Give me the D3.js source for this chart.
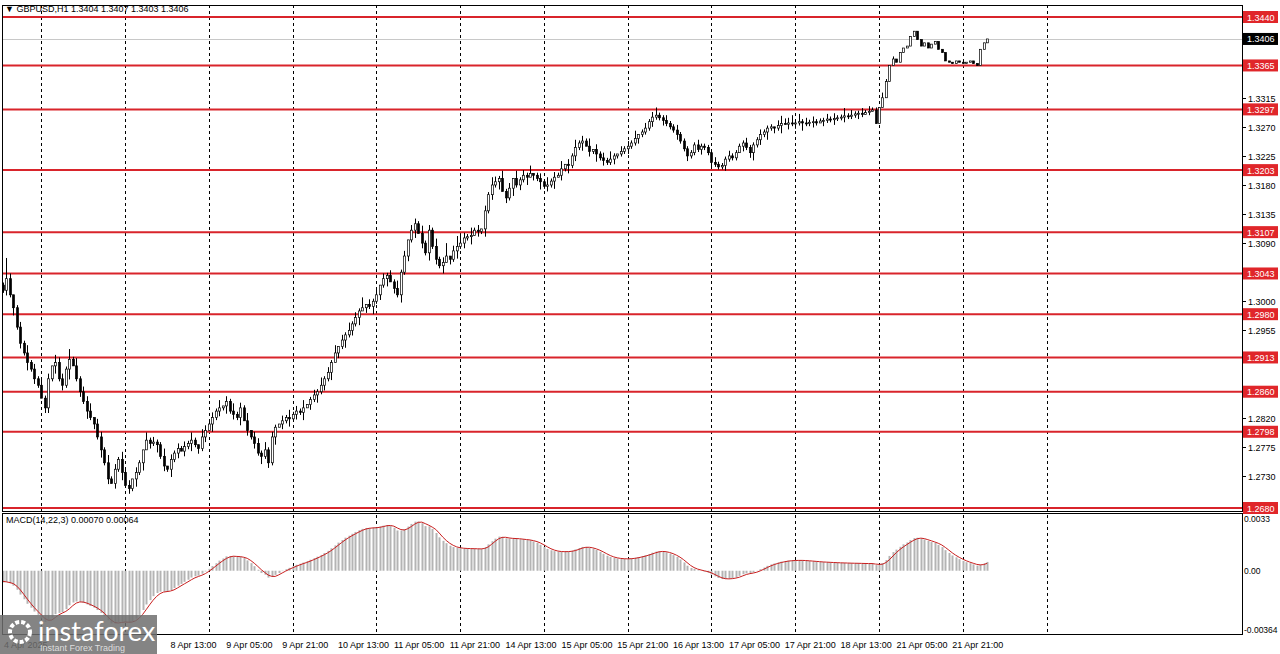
<!DOCTYPE html>
<html>
<head>
<meta charset="utf-8">
<script src="https://cdn.jsdelivr.net/npm/d3@7"></script>
<style>
  body { margin: 0; background: #fff; }
  text { font-family: "Liberation Sans", Tahoma, sans-serif; font-size: 9px; }
</style>
</head>
<body>
<div id="chart"></div>
<script>
const W = 1280, H = 654;

// hourly closes (GBPUSD H1)
const history = [1.3085, 1.3090, 1.3080, 1.3082, 1.3075, 1.3078, 1.3070, 1.3072, 1.3068, 1.3065,
  1.3070, 1.3066, 1.3062, 1.3064, 1.3060, 1.3062, 1.3058, 1.3060, 1.3055, 1.3058,
  1.3054, 1.3056, 1.3052, 1.3050, 1.3048, 1.3045, 1.3040, 1.3035, 1.3030, 1.3025];
const closes = [
  1.3017,1.3035,1.3010,1.2990,1.2960,1.2935,1.2920,1.2905,1.2895,1.2880,
  1.2870,1.2850,1.2835,1.2880,1.2900,1.2905,1.2880,1.2870,1.2895,1.2910,
  1.2900,1.2880,1.2860,1.2845,1.2830,1.2820,1.2810,1.2790,1.2770,1.2750,
  1.2725,1.2718,1.2740,1.2755,1.2735,1.2715,1.2710,1.2725,1.2735,1.2750,
  1.2770,1.2785,1.2780,1.2782,1.2778,1.2760,1.2745,1.2740,1.2755,1.2765,
  1.2772,1.2768,1.2775,1.2780,1.2785,1.2778,1.2772,1.2790,1.2800,1.2810,
  1.2820,1.2830,1.2835,1.2838,1.2845,1.2830,1.2825,1.2820,1.2835,1.2815,
  1.2800,1.2790,1.2780,1.2765,1.2760,1.2770,1.2750,1.2790,1.2805,1.2810,
  1.2815,1.2820,1.2818,1.2825,1.2830,1.2828,1.2835,1.2840,1.2848,1.2855,
  1.2860,1.2870,1.2880,1.2890,1.2905,1.2920,1.2930,1.2940,1.2948,1.2955,
  1.2965,1.2975,1.2985,1.2990,1.2995,1.2992,1.3000,1.3010,1.3025,1.3035,
  1.3040,1.3030,1.3020,1.3010,1.3045,1.3070,1.3095,1.3110,1.3120,1.3105,
  1.3090,1.3075,1.3110,1.3085,1.3065,1.3055,1.3060,1.3070,1.3065,1.3078,
  1.3085,1.3090,1.3098,1.3100,1.3102,1.3110,1.3108,1.3112,1.3140,1.3165,
  1.3180,1.3185,1.3190,1.3170,1.3160,1.3175,1.3190,1.3180,1.3188,1.3195,
  1.3192,1.3198,1.3195,1.3190,1.3185,1.3178,1.3180,1.3186,1.3192,1.3195,
  1.3205,1.3212,1.3210,1.3225,1.3238,1.3245,1.3248,1.3240,1.3232,1.3235,
  1.3228,1.3222,1.3218,1.3215,1.3220,1.3225,1.3228,1.3232,1.3236,1.3240,
  1.3245,1.3252,1.3258,1.3262,1.3268,1.3278,1.3285,1.3288,1.3284,1.3280,
  1.3275,1.3270,1.3265,1.3258,1.3248,1.3236,1.3225,1.3230,1.3242,1.3235,
  1.3240,1.3238,1.3230,1.3215,1.3212,1.3208,1.3210,1.3220,1.3225,1.3222,
  1.3230,1.3240,1.3245,1.3238,1.3230,1.3242,1.3250,1.3258,1.3262,1.3268,
  1.3270,1.3268,1.3272,1.3275,1.3274,1.3276,1.3275,1.3276,1.3278,1.3276,
  1.3275,1.3277,1.3278,1.3276,1.3279,1.3280,1.3282,1.3281,1.3283,1.3284,
  1.3285,1.3287,1.3286,1.3288,1.3290,1.3291,1.3289,1.3292,1.3294,1.3296,
  1.3275,1.3300,1.3315,1.3340,1.3365,1.3375,1.3370,1.3385,1.3392,1.3395,
  1.3410,1.3418,1.3405,1.3395,1.3400,1.3392,1.3398,1.3402,1.3390,1.3385,
  1.3372,1.3370,1.3368,1.3372,1.3370,1.3368,1.3370,1.3372,1.3368,1.3365,
  1.3390,1.3400,1.3406];
// wick extensions above / below the body, in units of 4 pips, one digit per bar
const wickUp = "1820121312131203221413122302213121312021031211302121213103212130213121302213121021312130121312130213121402130212131202213121312502432131202132131203121301213121302131213021213102121301212311211211111211112111211112111211102322313121211121211312112121102101";
const wickDn = "1213121312102213121401213121312021312131302131213120213121203121312130212131213021312130213121302131213021312130213121302131213021312130213121302131213021312130213121302131211211121121112112111211211121121112111021231213121302121311210211211211121010";
const levels = [1.3440, 1.3365, 1.3297, 1.3203, 1.3107, 1.3043, 1.2980, 1.2913, 1.2860, 1.2798, 1.2680];
const priceTicks = [1.3450, 1.3405, 1.3360, 1.3315, 1.3270, 1.3225, 1.3180, 1.3135, 1.3090, 1.3045,
  1.3000, 1.2955, 1.2910, 1.2865, 1.2820, 1.2775, 1.2730, 1.2685];
const timeIdx = [48, 64, 80, 96, 112, 128, 144, 160, 176, 192, 208, 224, 240, 256, 272];
const timeLabels = ["8 Apr 13:00", "9 Apr 05:00", "9 Apr 21:00", "10 Apr 13:00",
  "11 Apr 05:00", "11 Apr 21:00", "14 Apr 13:00", "15 Apr 05:00", "15 Apr 21:00", "16 Apr 13:00",
  "17 Apr 05:00", "17 Apr 21:00", "18 Apr 13:00", "21 Apr 05:00", "21 Apr 21:00"];
const dayIdx = [11, 35, 59, 83, 107, 131, 155, 179, 203, 227, 251, 275, 299];

const bars = closes.map((c, i) => {
  const o = i === 0 ? history[history.length - 1] : closes[i - 1];
  return { i, o, c,
    h: Math.max(o, c) + (+wickUp[i] || 0) * 0.0004,
    l: Math.min(o, c) - (+wickDn[i] || 0) * 0.0004 };
});

// MACD(14,22,3): main = EMA14 - EMA22, signal = SMA3 of main
function ema(arr, n) {
  const k = 2 / (n + 1); let e = arr[0];
  return arr.map(v => (e = e + k * (v - e)));
}
const all = history.concat(closes);
const e14 = ema(all, 14), e22 = ema(all, 22);
const mainAll = all.map((v, i) => e14[i] - e22[i]);
const sigAll = mainAll.map((v, i) => i < 2 ? v : (mainAll[i] + mainAll[i - 1] + mainAll[i - 2]) / 3);
const macd = mainAll.slice(history.length), signal = sigAll.slice(history.length);

const plotL = 2, plotR = 1242, mainT = 5, mainB = 511, macdT = 513, macdB = 634;

const x = d3.scaleLinear().domain([0, 1]).range([3, 6.49]);
const y = d3.scaleLinear().domain([1.2680, 1.3440]).range([508, 17]);
const ym = d3.scaleLinear().domain([-0.00364, 0.0033]).range([630, 517]);

const svg = d3.select("#chart").append("svg").attr("width", W).attr("height", H);

svg.append("defs").append("clipPath").attr("id", "cm")
  .append("rect").attr("x", plotL).attr("y", mainT).attr("width", plotR - plotL).attr("height", mainB - mainT);
svg.append("defs").append("clipPath").attr("id", "cd")
  .append("rect").attr("x", plotL).attr("y", macdT).attr("width", plotR - plotL).attr("height", macdB - macdT);

// day separators
svg.append("g").selectAll("line").data(dayIdx).join("line")
  .attr("x1", d => Math.round(x(d)) + 0.5).attr("x2", d => Math.round(x(d)) + 0.5)
  .attr("y1", mainT).attr("y2", macdB)
  .attr("stroke", "#000").attr("stroke-dasharray", "3,3");

const gMain = svg.append("g").attr("clip-path", "url(#cm)");

// current price line
gMain.append("line").attr("x1", plotL).attr("x2", plotR)
  .attr("y1", Math.round(y(1.3406)) + 0.5).attr("y2", Math.round(y(1.3406)) + 0.5)
  .attr("stroke", "#c8c8c8");

// levels
gMain.append("g").selectAll("line").data(levels).join("line")
  .attr("x1", plotL).attr("x2", plotR).attr("y1", d => y(d)).attr("y2", d => y(d))
  .attr("stroke", "#d9242b").attr("stroke-width", 2);

// candles
const cg = gMain.append("g").selectAll("g").data(bars).join("g");
cg.append("line").attr("x1", d => Math.round(x(d.i)) + 0.5).attr("x2", d => Math.round(x(d.i)) + 0.5)
  .attr("y1", d => y(d.h)).attr("y2", d => y(d.l)).attr("stroke", "#000");
cg.append("rect")
  .attr("x", d => Math.round(x(d.i)) - 0.5).attr("width", 2)
  .attr("y", d => y(Math.max(d.o, d.c)))
  .attr("height", d => Math.max(1, Math.abs(y(d.o) - y(d.c))))
  .attr("fill", d => d.c >= d.o ? "#fff" : "#000").attr("stroke", "#000").attr("stroke-width", 0.7);

// MACD pane
const gM = svg.append("g").attr("clip-path", "url(#cd)");
gM.append("g").selectAll("line").data(macd).join("line")
  .attr("x1", (d, i) => Math.round(x(i)) + 0.5).attr("x2", (d, i) => Math.round(x(i)) + 0.5)
  .attr("y1", ym(0)).attr("y2", d => ym(d))
  .attr("stroke", "#b4b4b4").attr("stroke-width", 2);
gM.append("path").datum(signal)
  .attr("d", d3.line().x((d, i) => x(i)).y(d => ym(d)))
  .attr("fill", "none").attr("stroke", "#c81e1e").attr("stroke-width", 1);

// frames
svg.append("rect").attr("x", plotL + 0.5).attr("y", mainT + 0.5).attr("width", plotR - plotL).attr("height", mainB - mainT)
  .attr("fill", "none").attr("stroke", "#000");
svg.append("rect").attr("x", plotL + 0.5).attr("y", macdT + 0.5).attr("width", plotR - plotL).attr("height", macdB - macdT)
  .attr("fill", "none").attr("stroke", "#000");

// right price axis (ticks hidden under a label are skipped)
const ax = svg.append("g");
const labelled = levels.concat([1.3406]);
priceTicks.forEach(p => {
  const yy = Math.round(y(p)) + 0.5;
  ax.append("line").attr("x1", plotR).attr("x2", plotR + 4).attr("y1", yy).attr("y2", yy).attr("stroke", "#000");
  if (labelled.some(l => Math.abs(y(l) - y(p)) < 10)) return;
  ax.append("text").attr("x", plotR + 6).attr("y", yy + 3).text(p.toFixed(4));
});
levels.forEach(p => {
  const yy = y(p);
  ax.append("rect").attr("x", plotR + 1).attr("y", yy - 6).attr("width", 35).attr("height", 12).attr("fill", "#e0262a");
  ax.append("text").attr("x", plotR + 5).attr("y", yy + 3.5).attr("fill", "#fff").text(p.toFixed(4));
});
ax.append("rect").attr("x", plotR + 1).attr("y", y(1.3406) - 6).attr("width", 35).attr("height", 12).attr("fill", "#000");
ax.append("text").attr("x", plotR + 5).attr("y", y(1.3406) + 3.5).attr("fill", "#fff").text("1.3406");

[[0.0033, "0.0033", 522], [0, "0.00", 574], [-0.00364, "-0.00364", 633]].forEach(([v, t, ty]) => {
  ax.append("text").attr("x", plotR + 2).attr("y", ty).style("font-size", "8.5px").text(t);
});

// time axis
svg.append("g").selectAll("text").data(timeIdx).join("text")
  .attr("x", d => x(d)).attr("y", 648).text((d, i) => timeLabels[i]);
svg.append("text").attr("x", 4).attr("y", 648).text("4 Apr 2025");

// titles
svg.append("text").attr("x", 5).attr("y", 12).text("\u25BC GBPUSD,H1  1.3404 1.3407 1.3403 1.3406");
svg.append("text").attr("x", 6).attr("y", 523).text("MACD(14,22,3) 0.00070 0.00064");

// watermark
const logo = svg.append("g");
logo.append("rect").attr("x", 0).attr("y", 615).attr("width", 157).attr("height", 39).attr("fill", "#6e6e6e").attr("opacity", 0.85);
logo.append("circle").attr("cx", 20).attr("cy", 632).attr("r", 10).attr("fill", "none").attr("stroke", "#fff").attr("stroke-width", 4).attr("stroke-dasharray", "4,2");
logo.append("text").attr("x", 38).attr("y", 641).attr("fill", "#fff").style("font-size", "27px").style("font-family", "Lato, sans-serif").text("instaforex");
logo.append("text").attr("x", 40).attr("y", 651).attr("fill", "#ddd").style("font-size", "9px").text("Instant Forex Trading");
</script>
</body>
</html>
